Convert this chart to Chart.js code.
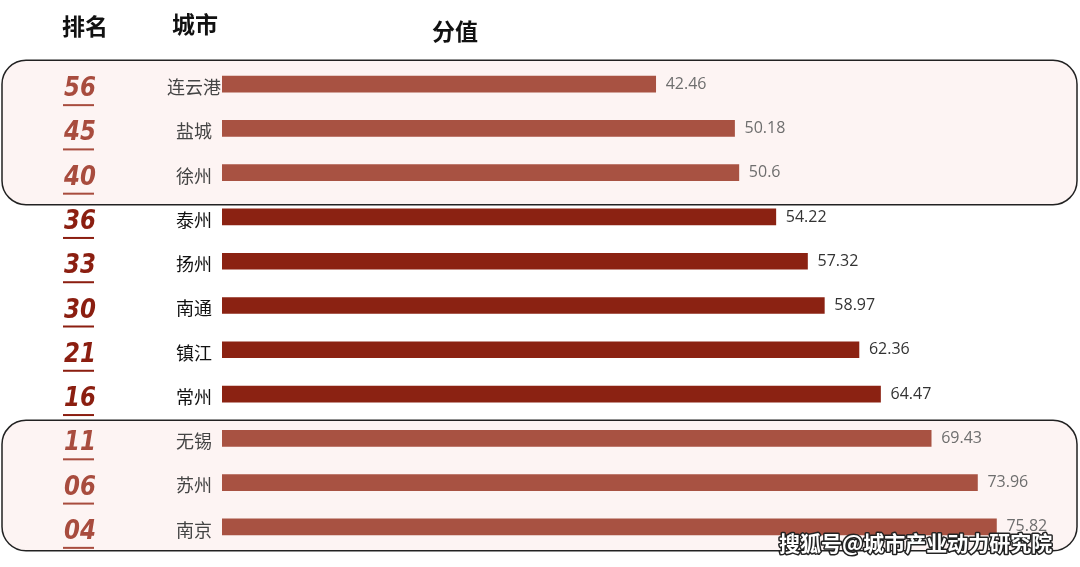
<!DOCTYPE html>
<html><head><meta charset="utf-8">
<script src="https://cdn.jsdelivr.net/npm/chart.js@4/dist/chart.umd.min.js"></script>
<style>html,body{margin:0;padding:0;background:#fff}#wrap{width:1080px;height:567px;position:relative}</style>
</head><body><div id="wrap"><canvas id="c" width="1080" height="567"></canvas></div>
<script>
const cities = ["连云港","盐城","徐州","泰州","扬州","南通","镇江","常州","无锡","苏州","南京"];
const ranks = ["56","45","40","36","33","30","21","16","11","06","04"];
const scores = [42.46,50.18,50.6,54.22,57.32,58.97,62.36,64.47,69.43,73.96,75.82];
const highlighted = [true,true,true,false,false,false,false,false,true,true,true];
const headers = ["排名","城市","分值"];
const watermark = "搜狐号@城市产业动力研究院";

const LIGHT = "#A85242", DARK = "#8B2212";
const FONT = "'Noto Sans CJK SC','Noto Sans',sans-serif";

const boxPlugin = {
  id: 'boxes',
  beforeDatasetsDraw(chart) {
    const ctx = chart.ctx, y = chart.scales.y;
    const groups = [[0,2,24,32],[8,10,18,24]];
    ctx.save();
    groups.forEach(([a,b,pt,pb]) => {
      const top = y.getPixelForValue(a) - pt, bot = y.getPixelForValue(b) + pb;
      const x0 = 2, x1 = 1077, r = 24;
      ctx.beginPath();
      ctx.roundRect(x0, top, x1 - x0, bot - top, r);
      ctx.fillStyle = "#FDF4F3";
      ctx.fill();
      ctx.lineWidth = 1.5;
      ctx.strokeStyle = "#222";
      ctx.stroke();
    });
    ctx.restore();
  },
  afterDatasetsDraw(chart) {
    const ctx = chart.ctx, y = chart.scales.y, x = chart.scales.x;
    ctx.save();
    ctx.fillStyle = "#111";
    ctx.font = "bold 23px " + FONT;
    ctx.textAlign = "center"; ctx.textBaseline = "middle";
    ctx.fillText(headers[0], 85, 26);
    ctx.fillText(headers[1], 195, 24);
    ctx.fillText(headers[2], 455, 31);
    cities.forEach((c, i) => {
      const py = y.getPixelForValue(i);
      ctx.font = "italic bold 27px 'DejaVu Sans', sans-serif";
      ctx.fillStyle = highlighted[i] ? "#A84C3E" : "#8B1E10";
      ctx.textAlign = "center"; ctx.textBaseline = "middle";
      const ry = py + 5;
      ctx.save();
      ctx.translate(80, ry);
      ctx.scale(0.85, 1);
      ctx.fillText(ranks[i], 0, 0);
      ctx.restore();
      ctx.fillRect(63, ry + 15, 31, 2);
      ctx.font = "18px " + FONT;
      ctx.fillStyle = highlighted[i] ? "#444" : "#111";
      ctx.textAlign = "center";
      ctx.fillText(c, 194, py + 3);
      ctx.font = "16px 'Open Sans', 'Noto Sans', sans-serif";
      ctx.fillStyle = highlighted[i] ? "#6e6e6e" : "#333";
      ctx.textAlign = "left";
      ctx.fillText(String(scores[i]), x.getPixelForValue(scores[i]) + 10, py);
    });
    ctx.font = "bold 21px " + FONT;
    ctx.textAlign = "left"; ctx.textBaseline = "middle";
    ctx.lineJoin = "round";
    ctx.lineWidth = 3;
    ctx.strokeStyle = "#222";
    ctx.strokeText(watermark, 779, 543);
    ctx.fillStyle = "#fff";
    ctx.fillText(watermark, 779, 543);
    ctx.restore();
  }
};

new Chart(document.getElementById('c'), {
  type: 'bar',
  data: {
    labels: cities,
    datasets: [{
      data: scores,
      backgroundColor: highlighted.map(h => h ? LIGHT : DARK),
      barThickness: 16,
      borderWidth: 0
    }]
  },
  options: {
    indexAxis: 'y',
    responsive: false,
    animation: false,
    layout: { padding: { left: 222, right: 0, top: 62, bottom: 18 } },
    plugins: { legend: { display: false }, tooltip: { enabled: false } },
    scales: {
      x: { display: false, min: 0, max: 84 },
      y: { display: false }
    }
  },
  plugins: [boxPlugin]
});
</script>
</body></html>
